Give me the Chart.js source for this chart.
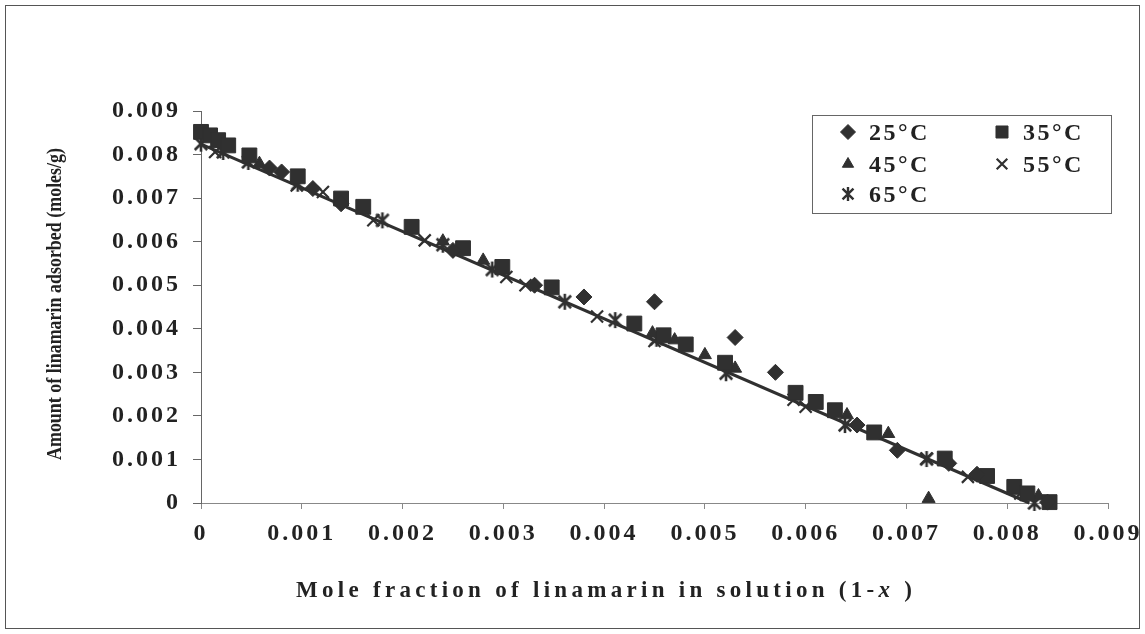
<!DOCTYPE html>
<html lang="en">
<head>
<meta charset="UTF-8">
<title>Linamarin adsorption</title>
<style>
  body { margin: 0; background: #fff; }
  #wrap { width: 1145px; height: 634px; }
</style>
</head>
<body>
<div id="wrap"><canvas id="chart" width="1145" height="634"></canvas></div>
<script src="https://cdn.jsdelivr.net/npm/chart.js"></script>
<script>
// values: mole fraction (1-x) vs amount adsorbed (moles/g)
const x25 = [0.00068, 0.0008, 0.00111, 0.00139, 0.0025, 0.00331, 0.0038, 0.0045, 0.0053, 0.0057, 0.00651, 0.00691, 0.00742, 0.0077, 0.0084];
const y25 = [0.00769, 0.0076, 0.00722, 0.00687, 0.0058, 0.0050, 0.00473, 0.00462, 0.0038, 0.0030, 0.00179, 0.00121, 0.00091, 0.00066, 0.00002];

const x35 = [0, 0.00009, 0.00017, 0.00027, 0.00048, 0.00096, 0.00139, 0.00161, 0.00209, 0.0026, 0.00299, 0.00348, 0.0043, 0.00459, 0.00481, 0.0052, 0.0059, 0.0061, 0.00629, 0.00668, 0.00738, 0.0078, 0.00807, 0.0082, 0.00842];
const y35 = [0.00852, 0.00844, 0.00833, 0.00821, 0.00798, 0.0075, 0.00699, 0.0068, 0.00634, 0.00585, 0.00542, 0.00495, 0.00412, 0.00385, 0.00364, 0.00322, 0.00253, 0.00232, 0.00213, 0.00162, 0.00102, 0.00062, 0.00037, 0.00022, 0.00002];

const x45 = [0.00058, 0.0024, 0.0028, 0.00448, 0.0047, 0.005, 0.0053, 0.00641, 0.00682, 0.00722, 0.00831];
const y45 = [0.00779, 0.00601, 0.00557, 0.0039, 0.00374, 0.0034, 0.00309, 0.00202, 0.00159, 0.0001, 0.00016];

const x55 = [0.00014, 0.00095, 0.00121, 0.00171, 0.00222, 0.00303, 0.00322, 0.00393, 0.0045, 0.00588, 0.006, 0.0072, 0.00761, 0.00813];
const y55 = [0.00806, 0.00729, 0.00714, 0.00649, 0.00603, 0.00519, 0.005, 0.00428, 0.00372, 0.00237, 0.00221, 0.00102, 0.0006, 0.00022];

const x65 = [0, 0.00022, 0.00047, 0.00096, 0.0018, 0.0024, 0.00289, 0.00361, 0.00411, 0.00452, 0.00521, 0.00639, 0.0072, 0.00827];
const y65 = [0.00825, 0.00806, 0.00783, 0.00733, 0.00649, 0.00593, 0.00536, 0.00462, 0.0042, 0.00377, 0.00298, 0.00179, 0.00101, 0];

// linear trend line
const trendX = [0, 0.00822];
const trendY = [0.00824, 0];

const seriesLabels = ['25°C', '35°C', '45°C', '55°C', '65°C'];
const xTickLabels = ['0', '0.001', '0.002', '0.003', '0.004', '0.005', '0.006', '0.007', '0.008', '0.009'];
const yTickLabels = ['0', '0.001', '0.002', '0.003', '0.004', '0.005', '0.006', '0.007', '0.008', '0.009'];
const xTitle = 'Mole fraction of linamarin in solution (1-';
const yTitle = 'Amount of linamarin adsorbed (moles/g)';

const ink = '#303030';
const serif = "'Liberation Serif', 'Times New Roman', serif";

function makeAsterisk(size, lw) {
    const c = document.createElement('canvas');
    c.width = c.height = size;
    const g = c.getContext('2d');
    const m = size / 2, r = size / 2 - 1, d = r * 0.78;
    g.strokeStyle = ink;
    g.lineWidth = lw;
    g.beginPath();
    g.moveTo(m, m - r); g.lineTo(m, m + r);
    g.moveTo(m - d, m - d); g.lineTo(m + d, m + d);
    g.moveTo(m + d, m - d); g.lineTo(m - d, m + d);
    g.stroke();
    return c;
}
const asterisk = makeAsterisk(18, 2.6);
const asteriskSmall = makeAsterisk(16, 2.4);

function series(label, xs, ys, style, radius, bw) {
    return {
        label: label,
        data: xs.map((x, i) => ({ x: x, y: ys[i] })),
        pointStyle: style,
        pointRadius: radius,
        pointHoverRadius: radius,
        pointBorderWidth: bw,
        backgroundColor: ink,
        borderColor: ink,
        showLine: false,
        clip: false
    };
}

// text drawn char by char with extra spacing
function charsWidth(ctx, parts) {
    let w = 0, n = 0;
    parts.forEach(p => {
        ctx.font = p.font;
        for (const ch of p.text) { w += ctx.measureText(ch).width; n++; }
    });
    return { w: w, n: n };
}
function drawChars(ctx, parts, x, y, spacing) {
    parts.forEach(p => {
        ctx.font = p.font;
        for (const ch of p.text) {
            ctx.fillText(ch, x, y);
            x += ctx.measureText(ch).width + spacing;
        }
    });
    return x;
}

const textPlugin = {
    id: 'textPlugin',
    beforeDraw(chart) {
        const ctx = chart.ctx;
        ctx.save();
        ctx.fillStyle = '#fff';
        ctx.fillRect(0, 0, chart.width, chart.height);
        ctx.restore();
        ctx.letterSpacing = '3px';
    },
    beforeDatasetsDraw(chart) {
        chart.ctx.letterSpacing = '0px';
    },
    afterDraw(chart) {
        const ctx = chart.ctx;
        ctx.save();
        ctx.letterSpacing = '0px';
        ctx.fillStyle = '#222';
        ctx.textAlign = 'left';
        ctx.textBaseline = 'alphabetic';

        // outer frame
        ctx.strokeStyle = '#555';
        ctx.lineWidth = 1;
        ctx.strokeRect(5.5, 5.5, 1134, 623);

        // x axis title
        const xParts = [
            { text: xTitle, font: 'bold 23px ' + serif },
            { text: 'x', font: 'italic bold 23px ' + serif },
            { text: ' )', font: 'bold 23px ' + serif }
        ];
        const m = charsWidth(ctx, xParts);
        const sp = (616 - m.w) / (m.n - 1);
        drawChars(ctx, xParts, 296, 597, sp);

        // y axis title, condensed
        ctx.save();
        ctx.translate(61, 304);
        ctx.rotate(-Math.PI / 2);
        ctx.font = 'bold 22px ' + serif;
        const yw = ctx.measureText(yTitle).width;
        ctx.scale(312 / yw, 1);
        ctx.textAlign = 'center';
        ctx.fillText(yTitle, 0, 0);
        ctx.restore();

        // legend box
        ctx.fillStyle = '#fff';
        ctx.fillRect(812, 115, 300, 99);
        ctx.strokeStyle = '#666';
        ctx.strokeRect(812.5, 115.5, 299, 98);
        const ds = chart.data.datasets;
        const spots = [[848, 132], [1002, 132], [848, 164], [1002, 164], [848, 194]];
        const legendStyle = [
            { pointStyle: 'rectRot', radius: 7.5 },
            { pointStyle: 'rect', radius: 8.5 },
            { pointStyle: 'triangle', radius: 6.5 },
            { pointStyle: 'crossRot', radius: 7.5 },
            { pointStyle: asteriskSmall, radius: 8 }
        ];
        for (let i = 0; i < 5; i++) {
            const [px, py] = spots[i];
            ctx.fillStyle = ink;
            ctx.strokeStyle = ink;
            ctx.lineWidth = i === 3 ? 2.2 : 1;
            Chart.helpers.drawPoint(ctx, {
                pointStyle: legendStyle[i].pointStyle,
                radius: legendStyle[i].radius,
                rotation: 0,
                borderWidth: ctx.lineWidth
            }, px, py);
            ctx.fillStyle = '#222';
            drawChars(ctx, [{ text: ds[i].label, font: 'bold 24px ' + serif }], px + 21, py + 8, 2.5);
        }
        ctx.restore();
    }
};

const tickFont = { family: serif, size: 24, weight: 'bold' };

new Chart(document.getElementById('chart').getContext('2d'), {
    type: 'scatter',
    data: {
        datasets: [
            series(seriesLabels[0], x25, y25, 'rectRot', 8, 1),
            series(seriesLabels[1], x35, y35, 'rect', 10.5, 1),
            series(seriesLabels[2], x45, y45, 'triangle', 7.5, 1),
            series(seriesLabels[3], x55, y55, 'crossRot', 8.5, 2.2),
            series(seriesLabels[4], x65, y65, asterisk, 9, 1),
            {
                label: 'trend',
                data: trendX.map((x, i) => ({ x: x, y: trendY[i] })),
                showLine: true,
                borderColor: ink,
                borderWidth: 3,
                pointRadius: 0,
                clip: false
            }
        ]
    },
    options: {
        responsive: false,
        animation: false,
        events: [],
        layout: { padding: { top: 111, right: 35, left: 0, bottom: 0 } },
        plugins: {
            legend: { display: false },
            tooltip: { enabled: false }
        },
        scales: {
            x: {
                type: 'linear',
                min: 0,
                max: 0.009,
                afterFit(s) { s.height = 131; },
                ticks: {
                    stepSize: 0.001,
                    autoSkip: false,
                    maxRotation: 0,
                    padding: 10,
                    color: '#222',
                    font: tickFont,
                    callback: v => xTickLabels[Math.round(v / 0.001)]
                },
                grid: { drawOnChartArea: false, drawTicks: true, tickLength: 6, color: '#888' },
                border: { color: '#888', width: 1 }
            },
            y: {
                type: 'linear',
                min: 0,
                max: 0.009,
                afterFit(s) { s.width = 201; },
                ticks: {
                    stepSize: 0.001,
                    autoSkip: false,
                    padding: 12,
                    color: '#222',
                    font: tickFont,
                    callback: v => yTickLabels[Math.round(v / 0.001)]
                },
                grid: { drawOnChartArea: false, drawTicks: true, tickLength: 8, color: '#666' },
                border: { color: '#666', width: 1 }
            }
        }
    },
    plugins: [textPlugin]
});
</script>
</body>
</html>
